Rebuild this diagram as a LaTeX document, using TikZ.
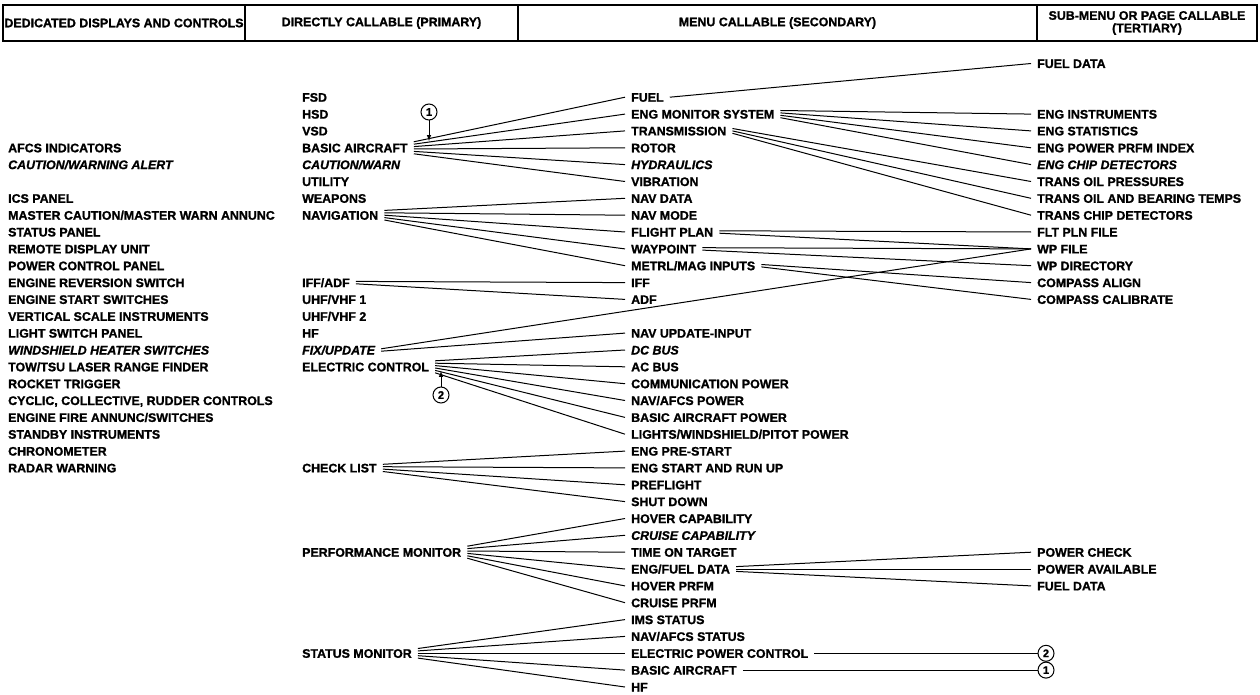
\documentclass[tikz,border=0pt]{standalone}
\usepackage{fontspec}
\setmainfont{Liberation Sans}[BoldFont={* Bold}, BoldItalicFont={* Bold Italic},
  BoldFeatures={FakeBold=1.2}, BoldItalicFeatures={FakeBold=1.2}]
\usepackage{tikz}
\usetikzlibrary{arrows}

\begin{document}
\begin{tikzpicture}[x=1pt,y=-1pt,
  item/.style={anchor=west, inner xsep=6pt, inner ysep=1pt, text height=9pt, text depth=0pt,
    font=\bfseries\fontsize{12.4}{13}\selectfont},
  itl/.style={item, font=\bfseries\itshape\fontsize{12.4}{13}\selectfont},
  hdr/.style={draw, line width=1.1pt, minimum height=36pt, inner sep=0pt, align=center,
    font=\bfseries\fontsize{12.4}{12.5}\selectfont},
  num/.style={draw, circle, line width=1pt, minimum size=16pt, inner sep=0pt,
    font=\bfseries\fontsize{11}{11}\selectfont},
  link/.style={line width=1pt}]

\useasboundingbox (0,0) rectangle (1260,695);

% header
\node[hdr, minimum width=242pt] (hded) at (124,23) {DEDICATED DISPLAYS AND CONTROLS};
\node[hdr, minimum width=273pt] (hpri) at (381.5,23) {DIRECTLY CALLABLE (PRIMARY)};
\node[hdr, minimum width=519pt] (hsec) at (777.5,23) {MENU CALLABLE (SECONDARY)};
\node[hdr, minimum width=220pt] (hter) at (1147,23) {SUB-MENU OR PAGE CALLABLE\\(TERTIARY)};

% dedicated
\node[item] (afcs) at (2,147.8) {AFCS INDICATORS};
\node[itl] (cwalert) at (2,164.6) {CAUTION/WARNING ALERT};
\node[item] (ics) at (2,198.3) {ICS PANEL};
\node[item] (mcw) at (2,215.2) {MASTER CAUTION/MASTER WARN ANNUNC};
\node[item] (statpnl) at (2,232.0) {STATUS PANEL};
\node[item] (rdu) at (2,248.9) {REMOTE DISPLAY UNIT};
\node[item] (pcp) at (2,265.7) {POWER CONTROL PANEL};
\node[item] (engrev) at (2,282.6) {ENGINE REVERSION SWITCH};
\node[item] (engsw) at (2,299.4) {ENGINE START SWITCHES};
\node[item] (vsi) at (2,316.3) {VERTICAL SCALE INSTRUMENTS};
\node[item] (lsp) at (2,333.1) {LIGHT SWITCH PANEL};
\node[itl] (whs) at (2,350.0) {WINDSHIELD HEATER SWITCHES};
\node[item] (tow) at (2,366.8) {TOW/TSU LASER RANGE FINDER};
\node[item] (rocket) at (2,383.7) {ROCKET TRIGGER};
\node[item] (cyclic) at (2,400.5) {CYCLIC, COLLECTIVE, RUDDER CONTROLS};
\node[item] (fire) at (2,417.4) {ENGINE FIRE ANNUNC/SWITCHES};
\node[item] (standby) at (2,434.2) {STANDBY INSTRUMENTS};
\node[item] (chrono) at (2,451.1) {CHRONOMETER};
\node[item] (radar) at (2,467.9) {RADAR WARNING};

% primary
\node[item] (fsd) at (296,97.2) {FSD};
\node[item] (hsd) at (296,114.1) {HSD};
\node[item] (vsd) at (296,130.9) {VSD};
\node[item] (basic) at (296,147.8) {BASIC AIRCRAFT};
\node[itl] (cwarn) at (296,164.6) {CAUTION/WARN};
\node[item] (util) at (296,181.5) {UTILITY};
\node[item] (weap) at (296,198.3) {WEAPONS};
\node[item] (nav) at (296,215.2) {NAVIGATION};
\node[item] (iffadf) at (296,282.6) {IFF/ADF};
\node[item] (uhf1) at (296,299.4) {UHF/VHF 1};
\node[item] (uhf2) at (296,316.3) {UHF/VHF 2};
\node[item] (hf) at (296,333.1) {HF};
\node[itl] (fix) at (296,350.0) {FIX/UPDATE};
\node[item] (elec) at (296,366.8) {ELECTRIC CONTROL};
\node[item] (check) at (296,467.9) {CHECK LIST};
\node[item] (perf) at (296,552.2) {PERFORMANCE MONITOR};
\node[item] (stat) at (296,653.3) {STATUS MONITOR};

% secondary
\node[item] (fuel) at (625,97.2) {FUEL};
\node[item] (engmon) at (625,114.1) {ENG MONITOR SYSTEM};
\node[item] (trans) at (625,130.9) {TRANSMISSION};
\node[item] (rotor) at (625,147.8) {ROTOR};
\node[itl] (hyd) at (625,164.6) {HYDRAULICS};
\node[item] (vib) at (625,181.5) {VIBRATION};
\node[item] (navdata) at (625,198.3) {NAV DATA};
\node[item] (navmode) at (625,215.2) {NAV MODE};
\node[item] (fltplan) at (625,232.0) {FLIGHT PLAN};
\node[item] (waypt) at (625,248.9) {WAYPOINT};
\node[item] (metrl) at (625,265.7) {METRL/MAG INPUTS};
\node[item] (iff) at (625,282.6) {IFF};
\node[item] (adf) at (625,299.4) {ADF};
\node[item] (navupd) at (625,333.1) {NAV UPDATE-INPUT};
\node[itl] (dcbus) at (625,350.0) {DC BUS};
\node[item] (acbus) at (625,366.8) {AC BUS};
\node[item] (commpwr) at (625,383.7) {COMMUNICATION POWER};
\node[item] (navpwr) at (625,400.5) {NAV/AFCS POWER};
\node[item] (acpwr) at (625,417.4) {BASIC AIRCRAFT POWER};
\node[item] (ltpwr) at (625,434.2) {LIGHTS/WINDSHIELD/PITOT POWER};
\node[item] (prestart) at (625,451.1) {ENG PRE-START};
\node[item] (runup) at (625,467.9) {ENG START AND RUN UP};
\node[item] (preflt) at (625,484.8) {PREFLIGHT};
\node[item] (shutdn) at (625,501.6) {SHUT DOWN};
\node[item] (hovcap) at (625,518.5) {HOVER CAPABILITY};
\node[itl] (crucap) at (625,535.3) {CRUISE CAPABILITY};
\node[item] (tot) at (625,552.2) {TIME ON TARGET};
\node[item] (engfuel) at (625,569.0) {ENG/FUEL DATA};
\node[item] (hovprfm) at (625,585.9) {HOVER PRFM};
\node[item] (cruprfm) at (625,602.7) {CRUISE PRFM};
\node[item] (ims) at (625,619.6) {IMS STATUS};
\node[item] (navstat) at (625,636.4) {NAV/AFCS STATUS};
\node[item] (epc) at (625,653.3) {ELECTRIC POWER CONTROL};
\node[item] (basicac) at (625,670.1) {BASIC AIRCRAFT};
\node[item] (hfst) at (625,687.0) {HF};

% tertiary
\node[item] (fueldata) at (1031,63.5) {FUEL DATA};
\node[item] (enginst) at (1031,114.1) {ENG INSTRUMENTS};
\node[item] (engstat) at (1031,130.9) {ENG STATISTICS};
\node[item] (engppi) at (1031,147.8) {ENG POWER PRFM INDEX};
\node[itl] (engchip) at (1031,164.6) {ENG CHIP DETECTORS};
\node[item] (transoil) at (1031,181.5) {TRANS OIL PRESSURES};
\node[item] (transtemp) at (1031,198.3) {TRANS OIL AND BEARING TEMPS};
\node[item] (transchip) at (1031,215.2) {TRANS CHIP DETECTORS};
\node[item] (fltfile) at (1031,232.0) {FLT PLN FILE};
\node[item] (wpfile) at (1031,248.9) {WP FILE};
\node[item] (wpdir) at (1031,265.7) {WP DIRECTORY};
\node[item] (cmpalign) at (1031,282.6) {COMPASS ALIGN};
\node[item] (cmpcal) at (1031,299.4) {COMPASS CALIBRATE};
\node[item] (pwrchk) at (1031,552.2) {POWER CHECK};
\node[item] (pwravail) at (1031,569.0) {POWER AVAILABLE};
\node[item] (fueldat2) at (1031,585.9) {FUEL DATA};

% callouts
\node[num] (one) at (429,112) {1};
\node[num] (two) at (441,395) {2};
\node[num] (tworef) at (1046,653.3) {2};
\node[num] (oneref) at (1046,670.1) {1};
\coordinate (onetip) at (429,141);
\coordinate (twotip) at (441,371);
\draw[link,-latex] (one) -- (onetip);
\draw[link,-latex] (two) -- (twotip);

% primary to secondary
\draw[link] ([yshift=6pt]basic.east) -- (fuel.west);
\draw[link] ([yshift=3.6pt]basic.east) -- (engmon.west);
\draw[link] ([yshift=1.2pt]basic.east) -- (trans.west);
\draw[link] ([yshift=-1.2pt]basic.east) -- (rotor.west);
\draw[link] ([yshift=-3.6pt]basic.east) -- (hyd.west);
\draw[link] ([yshift=-6pt]basic.east) -- (vib.west);

\draw[link] ([yshift=4.8pt]nav.east) -- (navdata.west);
\draw[link] ([yshift=2.4pt]nav.east) -- (navmode.west);
\draw[link] (nav.east) -- (fltplan.west);
\draw[link] ([yshift=-2.4pt]nav.east) -- (waypt.west);
\draw[link] ([yshift=-4.8pt]nav.east) -- (metrl.west);

\draw[link] ([yshift=1.2pt]iffadf.east) -- (iff.west);
\draw[link] ([yshift=-1.2pt]iffadf.east) -- (adf.west);

\draw[link] ([yshift=1.2pt]fix.east) -- (wpfile.west);
\draw[link] ([yshift=-1.2pt]fix.east) -- (navupd.west);

\draw[link] ([yshift=6pt]elec.east) -- (dcbus.west);
\draw[link] ([yshift=3.6pt]elec.east) -- (acbus.west);
\draw[link] ([yshift=1.2pt]elec.east) -- (commpwr.west);
\draw[link] ([yshift=-1.2pt]elec.east) -- (navpwr.west);
\draw[link] ([yshift=-3.6pt]elec.east) -- (acpwr.west);
\draw[link] ([yshift=-6pt]elec.east) -- (ltpwr.west);

\draw[link] ([yshift=3.6pt]check.east) -- (prestart.west);
\draw[link] ([yshift=1.2pt]check.east) -- (runup.west);
\draw[link] ([yshift=-1.2pt]check.east) -- (preflt.west);
\draw[link] ([yshift=-3.6pt]check.east) -- (shutdn.west);

\draw[link] ([yshift=6pt]perf.east) -- (hovcap.west);
\draw[link] ([yshift=3.6pt]perf.east) -- (crucap.west);
\draw[link] ([yshift=1.2pt]perf.east) -- (tot.west);
\draw[link] ([yshift=-1.2pt]perf.east) -- (engfuel.west);
\draw[link] ([yshift=-3.6pt]perf.east) -- (hovprfm.west);
\draw[link] ([yshift=-6pt]perf.east) -- (cruprfm.west);

\draw[link] ([yshift=4.8pt]stat.east) -- (ims.west);
\draw[link] ([yshift=2.4pt]stat.east) -- (navstat.west);
\draw[link] (stat.east) -- (epc.west);
\draw[link] ([yshift=-2.4pt]stat.east) -- (basicac.west);
\draw[link] ([yshift=-4.8pt]stat.east) -- (hfst.west);

% secondary to tertiary
\draw[link] (fuel.east) -- (fueldata.west);

\draw[link] ([yshift=3.6pt]engmon.east) -- (enginst.west);
\draw[link] ([yshift=1.2pt]engmon.east) -- (engstat.west);
\draw[link] ([yshift=-1.2pt]engmon.east) -- (engppi.west);
\draw[link] ([yshift=-3.6pt]engmon.east) -- (engchip.west);

\draw[link] ([yshift=2.4pt]trans.east) -- (transoil.west);
\draw[link] (trans.east) -- (transtemp.west);
\draw[link] ([yshift=-2.4pt]trans.east) -- (transchip.west);

\draw[link] ([yshift=1.2pt]fltplan.east) -- (fltfile.west);
\draw[link] ([yshift=-1.2pt]fltplan.east) -- (wpfile.west);
\draw[link] ([yshift=1.2pt]waypt.east) -- (wpfile.west);
\draw[link] ([yshift=-1.2pt]waypt.east) -- (wpdir.west);
\draw[link] ([yshift=1.2pt]metrl.east) -- (cmpalign.west);
\draw[link] ([yshift=-1.2pt]metrl.east) -- (cmpcal.west);

\draw[link] ([yshift=2.4pt]engfuel.east) -- (pwrchk.west);
\draw[link] (engfuel.east) -- (pwravail.west);
\draw[link] ([yshift=-2.4pt]engfuel.east) -- (fueldat2.west);

\draw[link] (epc.east) -- (tworef);
\draw[link] (basicac.east) -- (oneref);

\end{tikzpicture}
\end{document}
